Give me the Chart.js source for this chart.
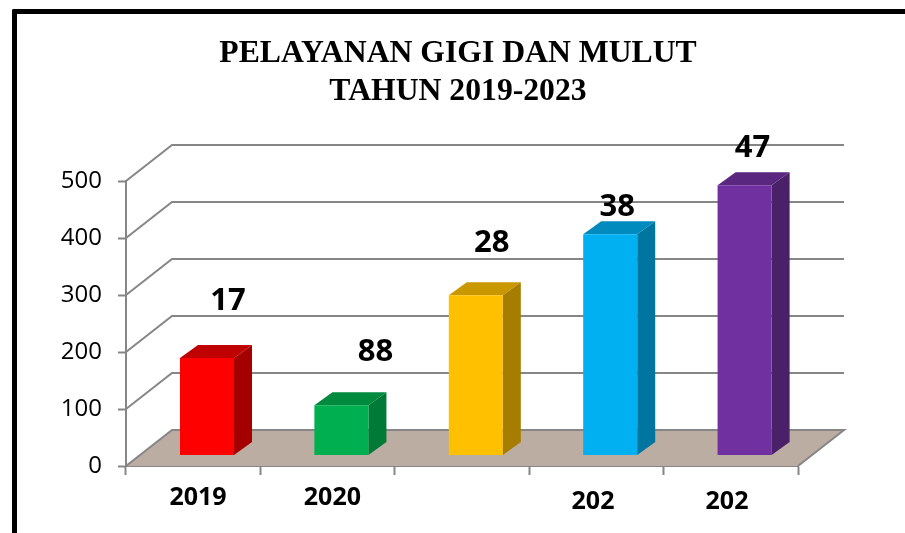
<!DOCTYPE html>
<html>
<head>
<meta charset="utf-8">
<style>
html,body{margin:0;padding:0;background:#fff;width:905px;height:533px;overflow:hidden}
#c{position:absolute;left:0;top:0}
#frame{position:absolute;left:12px;top:9px;width:891px;height:530px;border-left:5px solid #000;border-top:5px solid #000;border-right:1px solid #555;border-top-left-radius:2px;box-sizing:content-box}
</style>
<script src="https://cdn.jsdelivr.net/npm/chart.js@4"></script>
</head>
<body>
<canvas id="c" width="905" height="533"></canvas>
<div id="frame"></div>
<script>
const titleLines = ['PELAYANAN GIGI DAN MULUT', 'TAHUN 2019-2023'];
const categories = ['2019', '2020', '', '202', '202'];
const values = [171, 88, 281, 388, 474];
const valueLabels = ['17', '88', '28', '38', '47'];
const frontColors = ['#FF0000', '#00B050', '#FFC000', '#00B0F0', '#7030A0'];
const topColors = ['#C00000', '#008A3E', '#C99700', '#008BBE', '#592680'];
const sideColors = ['#A50000', '#007A37', '#A67D00', '#0075A0', '#4A2069'];
const yTicks = [0, 100, 200, 300, 400, 500];

// styling offsets (pixels)
const wallDX = 46, wallDY = -36;
const barDX = 13.8, barDY = -10.5;
const sideDX = 18, sideDY = -13;
const valueNudgeX = [21, 34, 16, 7, 8];
const valueNudgeY = [-56.5, -53.5, -52.5, -27.5, -37.5];
const catNudgeX = [4.8, 4.8, 0, -3.4, -3.8];
const catY = [498, 498, 498, 501.5, 501.5];
const GRID = '#868686';

const poly = (ctx, pts, fill) => {
  ctx.beginPath();
  pts.forEach((p, i) => i ? ctx.lineTo(p[0], p[1]) : ctx.moveTo(p[0], p[1]));
  ctx.closePath();
  ctx.fillStyle = fill;
  ctx.fill();
};

const threeD = {
  id: 'threeD',
  beforeDatasetsDraw(chart) {
    const {ctx, scales: {y}, chartArea: a} = chart;
    ctx.save();
    const y0 = y.getPixelForValue(0);
    poly(ctx, [[a.left, y0], [a.left + wallDX, y0 + wallDY], [a.right + wallDX, y0 + wallDY], [a.right, y0]], '#BBADA1');
    ctx.strokeStyle = GRID;
    ctx.lineWidth = 2;
    yTicks.forEach(v => {
      const p = y.getPixelForValue(v);
      ctx.beginPath();
      ctx.moveTo(a.left, p);
      ctx.lineTo(a.left + wallDX, p + wallDY);
      ctx.lineTo(a.right + wallDX, p + wallDY);
      if (v === 0) ctx.lineTo(a.right, p);
      ctx.stroke();
    });
    ctx.restore();
  },
  beforeDatasetDraw(chart, args) {
    const {ctx} = chart;
    ctx.save();
    ctx.translate(barDX, barDY);
    chart.getDatasetMeta(args.index).data.forEach((bar, i) => {
      const l = bar.x - bar.width / 2, r = bar.x + bar.width / 2, t = bar.y, b = bar.base;
      poly(ctx, [[l, t], [l + sideDX, t + sideDY], [r + sideDX, t + sideDY], [r, t]], topColors[i]);
      poly(ctx, [[r, t], [r + sideDX, t + sideDY], [r + sideDX, b + sideDY], [r, b]], sideColors[i]);
    });
  },
  afterDatasetDraw(chart) {
    chart.ctx.restore();
  },
  afterDatasetsDraw(chart) {
    const {ctx, scales: {x}} = chart;
    ctx.save();
    ctx.fillStyle = '#000';
    ctx.textAlign = 'center';
    ctx.textBaseline = 'middle';
    ctx.font = 'bold 31px "Open Sans"';
    chart.getDatasetMeta(0).data.forEach((bar, i) => {
      ctx.fillText(valueLabels[i], bar.x + barDX + valueNudgeX[i], bar.y + barDY + valueNudgeY[i]);
    });
    ctx.font = 'bold 25px "Open Sans"';
    categories.forEach((c, i) => {
      if (c) ctx.fillText(c, x.getPixelForValue(i) + catNudgeX[i], catY[i]);
    });
    ctx.restore();
  }
};

new Chart(document.getElementById('c'), {
  type: 'bar',
  data: {
    labels: categories,
    datasets: [{
      data: values,
      backgroundColor: frontColors,
      borderWidth: 0,
      barPercentage: 1,
      categoryPercentage: 0.402
    }]
  },
  plugins: [threeD],
  options: {
    responsive: false,
    animation: false,
    events: [],
    layout: {padding: {left: 11, right: 0, top: 0, bottom: 0}},
    plugins: {
      legend: {display: false},
      tooltip: {enabled: false},
      title: {
        display: true,
        text: titleLines,
        color: '#000',
        font: {family: '"Liberation Serif"', weight: 'bold', size: 31.7, lineHeight: '38px'},
        padding: {top: 35, bottom: 70}
      }
    },
    scales: {
      x: {
        type: 'category',
        border: {color: GRID, width: 2},
        grid: {drawOnChartArea: false, drawTicks: true, tickLength: 9, tickWidth: 2, tickColor: GRID},
        ticks: {display: false},
        afterFit(s) { s.height = 67; }
      },
      y: {
        min: 0,
        max: 500,
        afterBuildTicks(s) { s.ticks = yTicks.map(v => ({value: v})); },
        border: {color: GRID, width: 2},
        grid: {drawOnChartArea: false, drawTicks: true, tickLength: 8, tickWidth: 2, tickColor: GRID},
        ticks: {
          color: '#000',
          padding: 16,
          font: {family: '"Open Sans"', size: 24}
        },
        afterFit(s) { s.width = 115; }
      },
      rightMargin: {
        position: 'right',
        display: true,
        min: 0,
        max: 500,
        border: {display: false},
        grid: {display: false, drawTicks: false},
        ticks: {display: false},
        afterFit(s) { s.width = 107; }
      }
    }
  }
});
</script>
</body>
</html>
